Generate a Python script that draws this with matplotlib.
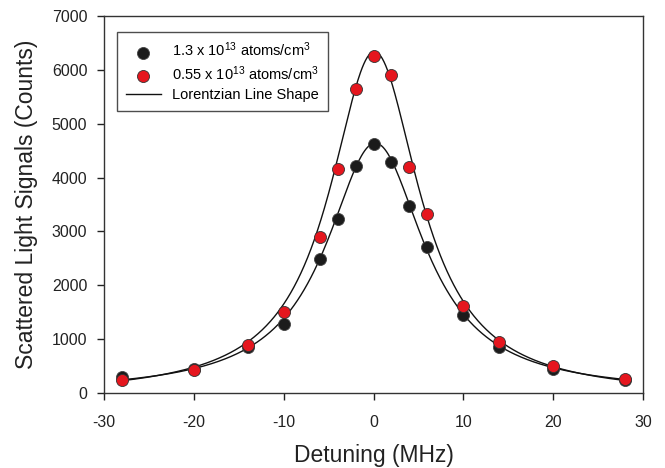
import matplotlib
matplotlib.use("Agg")
import matplotlib.pyplot as plt
import numpy as np

plt.rcParams['font.family'] = ['Liberation Sans', 'DejaVu Sans']
plt.rcParams['mathtext.fontset'] = 'custom'
plt.rcParams['mathtext.rm'] = 'Liberation Sans'
plt.rcParams['mathtext.it'] = 'Liberation Sans'
plt.rcParams['axes.unicode_minus'] = False

# detuning (MHz)
detuning = [-28, -20, -14, -10, -6, -4, -2, 0, 2, 4, 6, 10, 14, 20, 28]
# scattered light counts
high_density = [290, 440, 860, 1280, 2490, 3225, 4210, 4620, 4280, 3470, 2705, 1450, 860, 440, 245]
low_density = [240, 425, 890, 1495, 2900, 4150, 5650, 6260, 5910, 4200, 3330, 1620, 945, 500, 255]

# Lorentzian line shape parameters (amplitude, centre, FWHM, offset)
fit_high = (4640, 0.2, 13.3, 0)
fit_low = (6400, 0.1, 12.2, -60)

labels = [r'1.3 x 10$^{13}$ atoms/cm$^{3}$',
          r'0.55 x 10$^{13}$ atoms/cm$^{3}$',
          'Lorentzian Line Shape']


def lorentz(x, a, x0, w, y0):
    return y0 + a / (1 + (2 * (x - x0) / w) ** 2)


fig = plt.figure(figsize=(6.65, 4.68), dpi=100)
ax = fig.add_axes([104 / 665, 1 - 393 / 468, 539 / 665, 377 / 468])

xs = np.linspace(-28, 28, 600)
line, = ax.plot(xs, lorentz(xs, *fit_high), color='#111111', lw=1.0, zorder=2)
ax.plot(xs, lorentz(xs, *fit_low), color='#111111', lw=1.0, zorder=2)

p1 = ax.scatter(detuning, high_density, s=75, color='#1b1b1b',
                edgecolors='#444444', linewidths=0.6, zorder=3)
p2 = ax.scatter(detuning, low_density, s=75, color='#e5161e',
                edgecolors='#333333', linewidths=0.6, zorder=4)

ax.set_xlim(-30, 30)
ax.set_ylim(0, 7000)
ax.set_xticks(range(-30, 31, 10))
ax.set_yticks(range(0, 7001, 1000))
ax.tick_params(direction='out', length=5, width=1, labelsize=11.5,
               colors='#222222')
ax.tick_params(axis='x', pad=11)
ax.tick_params(axis='y', pad=7)
for s in ax.spines.values():
    s.set_color('#333333')
    s.set_linewidth(1)

ax.set_xlabel('Detuning (MHz)', fontsize=16.5, color='#222222', labelpad=10)
ax.set_ylabel('Scattered Light Signals (Counts)', fontsize=16.5,
              color='#222222', labelpad=10)

leg = ax.legend([p1, p2, line], labels, loc='upper left',
                bbox_to_anchor=(13 / 539, 1 - 16 / 377), borderaxespad=0,
                fontsize=10.5, frameon=True, fancybox=False, edgecolor='#222222',
                handlelength=2.4, handletextpad=0.8, labelspacing=0.35,
                borderpad=0.6, scatterpoints=1)
leg.get_frame().set_linewidth(1)

fig.savefig('out.png', dpi=100)
